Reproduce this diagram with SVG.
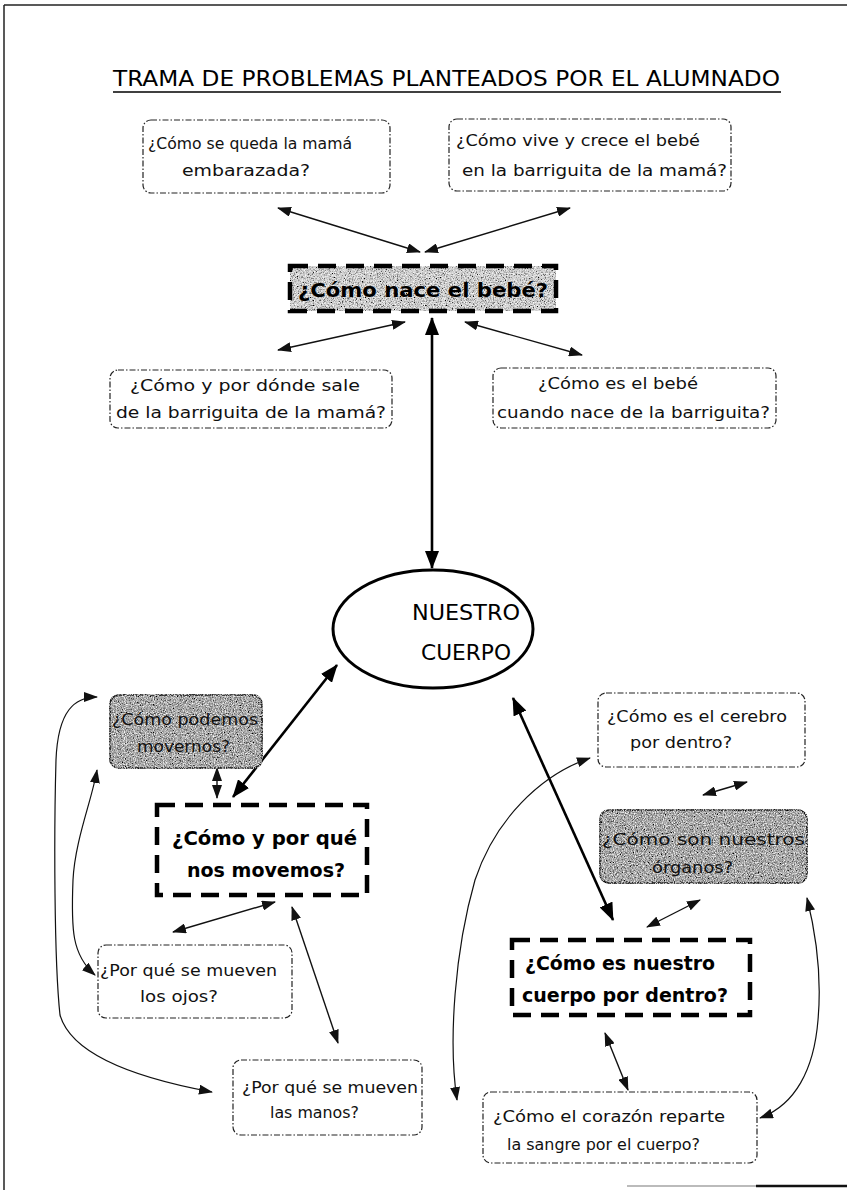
<svg xmlns="http://www.w3.org/2000/svg" width="847" height="1190" viewBox="0 0 847 1190">
  <defs>
    <style>
      .t{font-family:"DejaVu Sans","Liberation Sans",sans-serif;font-size:15.5px;fill:#111}
      .tb{font-family:"DejaVu Sans","Liberation Sans",sans-serif;font-size:20px;font-weight:bold;fill:#000}
      .ttl{font-family:"DejaVu Sans","Liberation Sans",sans-serif;font-size:21px;fill:#000}
      .box{fill:#fff;stroke:#222;stroke-width:1.2;stroke-dasharray:6 2 1.5 2}
      .heavy{fill:none;stroke:#000;stroke-width:4.5;stroke-dasharray:18 10}
      .gray{fill:#a4a4a4;stroke:#222;stroke-width:1.6}
      .ln{fill:none;stroke:#111;stroke-width:1.4;marker-start:url(#h);marker-end:url(#h)}
      .lnb{fill:none;stroke:#000;stroke-width:2.6;marker-start:url(#hb);marker-end:url(#hb)}
      .cv{fill:none;stroke:#111;stroke-width:1.2;marker-start:url(#h);marker-end:url(#h)}
      .frame{stroke:#222;stroke-width:1.5}
    </style>
    <marker id="h" viewBox="0 0 14 10" refX="13" refY="5" markerUnits="userSpaceOnUse" markerWidth="14" markerHeight="10" orient="auto-start-reverse">
      <path d="M0,0 L14,5 L0,10 z" fill="#111"/>
    </marker>
    <marker id="hb" viewBox="0 0 18 14" refX="17" refY="7" markerUnits="userSpaceOnUse" markerWidth="18" markerHeight="14" orient="auto-start-reverse">
      <path d="M0,0 L18,7 L0,14 z" fill="#000"/>
    </marker>
    <!-- speckled fill for the shaded question boxes -->
    <filter id="grain" x="-5%" y="-5%" width="110%" height="110%">
      <feTurbulence type="fractalNoise" baseFrequency="0.75" numOctaves="2" seed="5" result="n"/>
      <feColorMatrix in="n" type="matrix" values="0 0 0 0 0  0 0 0 0 0  0 0 0 0 0  0 0 0 -3 1.7" result="spk"/>
      <feComposite in="spk" in2="SourceAlpha" operator="in" result="spk2"/>
      <feTurbulence type="fractalNoise" baseFrequency="0.9" numOctaves="1" seed="11" result="n2"/>
      <feColorMatrix in="n2" type="matrix" values="0 0 0 0 1  0 0 0 0 1  0 0 0 0 1  0 0 0 -3 1.6" result="wsp"/>
      <feComposite in="wsp" in2="SourceAlpha" operator="in" result="wsp2"/>
      <feMerge><feMergeNode in="SourceGraphic"/><feMergeNode in="spk2"/><feMergeNode in="wsp2"/></feMerge>
    </filter>
  </defs>

  <!-- page frame -->
  <g id="frame">
    <line class="frame" x1="4" y1="5" x2="847" y2="5"/>
    <line class="frame" x1="4" y1="5" x2="4" y2="1190"/>
    <line x1="627" y1="1186" x2="756" y2="1186" stroke="#bbb" stroke-width="2"/>
    <line x1="756" y1="1186" x2="847" y2="1186" stroke="#111" stroke-width="2.5"/>
  </g>

  <!-- heading -->
  <g id="title">
    <text class="ttl" x="113" y="86" textLength="667" lengthAdjust="spacingAndGlyphs">TRAMA DE PROBLEMAS PLANTEADOS POR EL ALUMNADO</text>
    <line x1="113" y1="92" x2="781" y2="92" stroke="#000" stroke-width="1.6"/>
  </g>

  <!-- connectors -->
  <g id="connectors">
    <line class="ln" x1="278" y1="208" x2="420" y2="252"/>
    <line class="ln" x1="570" y1="208" x2="425" y2="252"/>
    <line class="ln" x1="278" y1="350" x2="405" y2="322"/>
    <line class="ln" x1="465" y1="322" x2="582" y2="355"/>
    <line class="lnb" x1="432" y1="318" x2="432" y2="568"/>
    <line class="lnb" x1="337" y1="665" x2="233" y2="797"/>
    <line class="ln" x1="217" y1="768" x2="217" y2="798"/>
    <line class="ln" x1="173" y1="932" x2="275" y2="902"/>
    <line class="ln" x1="292" y1="907" x2="338" y2="1043"/>
    <line class="lnb" x1="513" y1="698" x2="613" y2="920"/>
    <line class="ln" x1="703" y1="795" x2="747" y2="782"/>
    <line class="ln" x1="647" y1="927" x2="700" y2="900"/>
    <line class="ln" x1="605" y1="1033" x2="628" y2="1090"/>
    <path class="cv" d="M97,697 C75,697 58,710 56,760 C54,830 54,960 60,1015 C70,1050 120,1075 212,1092"/>
    <path class="cv" d="M97,770 C92,800 75,840 73,880 C71,930 72,955 95,975"/>
    <path class="cv" d="M590,758 C540,775 495,820 475,880 C455,950 448,1040 457,1100"/>
    <path class="cv" d="M807,898 C815,930 822,975 818,1020 C814,1070 795,1105 760,1118"/>
  </g>

  <g id="n-embarazada">
    <rect class="box" x="143" y="120" width="247" height="73" rx="8"/>
    <text class="t" x="148" y="149" textLength="204" lengthAdjust="spacingAndGlyphs">¿Cómo se queda la mamá</text>
    <text class="t" x="182" y="176" textLength="128" lengthAdjust="spacingAndGlyphs">embarazada?</text>
  </g>

  <g id="n-vive-crece">
    <rect class="box" x="449" y="119" width="282" height="72" rx="8"/>
    <text class="t" x="456" y="146" textLength="244" lengthAdjust="spacingAndGlyphs">¿Cómo vive y crece el bebé</text>
    <text class="t" x="462" y="176" textLength="265" lengthAdjust="spacingAndGlyphs">en la barriguita de la mamá?</text>
  </g>

  <g id="n-nace">
    <rect x="290" y="266" width="266" height="45" fill="#d4d4d4" filter="url(#grain)"/>
    <rect class="heavy" x="290" y="266" width="266" height="45"/>
    <text class="tb" x="298" y="297" textLength="250" lengthAdjust="spacingAndGlyphs">¿Cómo nace el bebé?</text>
  </g>

  <g id="n-sale">
    <rect class="box" x="110" y="370" width="282" height="58" rx="8"/>
    <text class="t" x="130" y="391" textLength="230" lengthAdjust="spacingAndGlyphs">¿Cómo y por dónde sale</text>
    <text class="t" x="116" y="418" textLength="270" lengthAdjust="spacingAndGlyphs">de la barriguita de la mamá?</text>
  </g>

  <g id="n-como-es-bebe">
    <rect class="box" x="493" y="368" width="283" height="60" rx="8"/>
    <text class="t" x="538" y="389" textLength="160" lengthAdjust="spacingAndGlyphs">¿Cómo es el bebé</text>
    <text class="t" x="497" y="418" textLength="273" lengthAdjust="spacingAndGlyphs">cuando nace de la barriguita?</text>
  </g>

  <g id="n-cuerpo">
    <ellipse cx="433" cy="629" rx="100" ry="59" fill="#fff" stroke="#000" stroke-width="3"/>
    <text class="ttl" x="466" y="620" text-anchor="middle" textLength="108" lengthAdjust="spacingAndGlyphs">NUESTRO</text>
    <text class="ttl" x="466" y="660" text-anchor="middle" textLength="90" lengthAdjust="spacingAndGlyphs">CUERPO</text>
  </g>

  <g id="n-podemos">
    <rect class="gray" x="110" y="695" width="152" height="73" rx="9" filter="url(#grain)"/>
    <text class="t" x="112" y="725" textLength="146" lengthAdjust="spacingAndGlyphs">¿Cómo podemos</text>
    <text class="t" x="137" y="752" textLength="93" lengthAdjust="spacingAndGlyphs">movernos?</text>
  </g>

  <g id="n-movemos">
    <rect class="heavy" x="157" y="805" width="210" height="90"/>
    <text class="tb" x="172" y="845" textLength="185" lengthAdjust="spacingAndGlyphs">¿Cómo y por qué</text>
    <text class="tb" x="187" y="877" textLength="158" lengthAdjust="spacingAndGlyphs">nos movemos?</text>
  </g>

  <g id="n-ojos">
    <rect class="box" x="98" y="945" width="194" height="73" rx="8"/>
    <text class="t" x="100" y="976" textLength="177" lengthAdjust="spacingAndGlyphs">¿Por qué se mueven</text>
    <text class="t" x="140" y="1002" textLength="78" lengthAdjust="spacingAndGlyphs">los ojos?</text>
  </g>

  <g id="n-manos">
    <rect class="box" x="233" y="1060" width="189" height="75" rx="8"/>
    <text class="t" x="242" y="1093" textLength="176" lengthAdjust="spacingAndGlyphs">¿Por qué se mueven</text>
    <text class="t" x="270" y="1118" textLength="89" lengthAdjust="spacingAndGlyphs">las manos?</text>
  </g>

  <g id="n-cerebro">
    <rect class="box" x="598" y="693" width="207" height="74" rx="8"/>
    <text class="t" x="607" y="722" textLength="180" lengthAdjust="spacingAndGlyphs">¿Cómo es el cerebro</text>
    <text class="t" x="630" y="748" textLength="102" lengthAdjust="spacingAndGlyphs">por dentro?</text>
  </g>

  <g id="n-organos">
    <rect class="gray" x="600" y="810" width="207" height="73" rx="9" filter="url(#grain)"/>
    <text class="t" x="602" y="845" textLength="203" lengthAdjust="spacingAndGlyphs">¿Cómo son nuestros</text>
    <text class="t" x="652" y="873" textLength="81" lengthAdjust="spacingAndGlyphs">órganos?</text>
  </g>

  <g id="n-por-dentro">
    <rect class="heavy" x="512" y="940" width="238" height="75"/>
    <text class="tb" x="525" y="970" textLength="190" lengthAdjust="spacingAndGlyphs">¿Cómo es nuestro</text>
    <text class="tb" x="522" y="1002" textLength="206" lengthAdjust="spacingAndGlyphs">cuerpo por dentro?</text>
  </g>

  <g id="n-corazon">
    <rect class="box" x="483" y="1092" width="274" height="71" rx="8"/>
    <text class="t" x="493" y="1122" textLength="232" lengthAdjust="spacingAndGlyphs">¿Cómo el corazón reparte</text>
    <text class="t" x="507" y="1150" textLength="193" lengthAdjust="spacingAndGlyphs">la sangre por el cuerpo?</text>
  </g>
</svg>
